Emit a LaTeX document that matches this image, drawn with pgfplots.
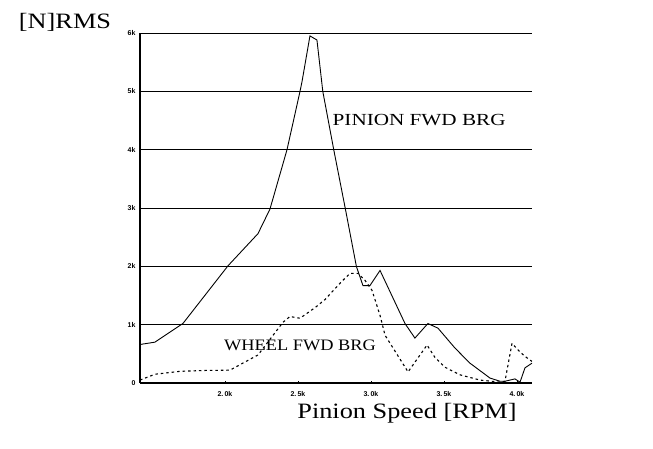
\documentclass[border=0pt]{standalone}
\usepackage{pgfplots}
\pgfplotsset{compat=1.18}
\usepackage{fontspec}
\setmainfont{Liberation Serif}
\newfontfamily\labelfont[FakeStretch=1.2]{Liberation Serif}
\newfontfamily\curvefont[FakeStretch=1.25]{Liberation Serif}
\newfontfamily\curvefontb[FakeStretch=1.15]{Liberation Serif}
\newfontfamily\tickfont{Liberation Sans}

\begin{document}
\begin{tikzpicture}
\path[use as bounding box] (0,0) rectangle (653bp,449bp);
\begin{axis}[
  at={(140bp,66bp)}, anchor=south west,
  scale only axis, width=392bp, height=350bp,
  xmin=1418, xmax=4103, ymin=0, ymax=6000,
  axis x line*=bottom, axis y line*=left,
  axis line style={-, line width=1.2pt},
  xtick={2000,2500,3000,3500,4000},
  xticklabels={2.\,0k,2.\,5k,3.\,0k,3.\,5k,4.\,0k},
  ytick={0,1000,2000,3000,4000,5000,6000},
  yticklabels={0,1k,2k,3k,4k,5k,6k},
  ymajorgrids,
  grid style={black, line width=0.8pt},
  major tick length=2bp,
  tick style={black, line width=0.6pt},
  tick label style={font=\tickfont\fontsize{7}{7}\selectfont\bfseries},
  xticklabel style={yshift=-5bp},
  yticklabel style={xshift=-1bp},
]
% pinion forward bearing
\addplot[black, line width=0.9pt] coordinates {
  (1418,660) (1520,700) (1712,1020) (2021,2010) (2226,2560) (2308,2980)
  (2425,4000) (2514,5000) (2528,5170) (2582,5950) (2630,5880) (2670,5000)
  (2745,4000) (2825,2980) (2900,2000) (2945,1670) (2993,1670) (3062,1930)
  (3233,1020) (3301,770) (3390,1020) (3459,940) (3575,600) (3678,340)
  (3815,85) (3884,30) (3918,30) (3986,70) (4021,15) (4055,260) (4103,340)
};
% wheel forward bearing
\addplot[black, line width=1.1pt, dash pattern=on 2.5pt off 3pt] coordinates {
  (1418,50) (1520,150) (1692,200) (1863,215) (2034,220) (2137,360)
  (2226,480) (2397,1040) (2445,1140) (2514,1110) (2616,1290) (2685,1430)
  (2788,1710) (2856,1880) (2911,1880) (2959,1760) (3007,1590) (3062,1160)
  (3096,820) (3254,190) (3384,650) (3438,440) (3507,270) (3610,140)
  (3747,50) (3884,15) (3918,30) (3966,680) (4021,530) (4069,430) (4103,370)
};
\node[font=\curvefont\fontsize{17}{17}\selectfont] at (axis cs:3330,4510) {PINION FWD BRG};
\node[font=\curvefontb\fontsize{16}{16}\selectfont] at (axis cs:2514,650) {WHEEL FWD BRG};
\end{axis}
\node[font=\labelfont\fontsize{22}{22}\selectfont] at (65bp,427bp) {[N]RMS};
\node[font=\labelfont\fontsize{22}{22}\selectfont] at (407bp,36bp) {Pinion Speed [RPM]};
\end{tikzpicture}
\end{document}
